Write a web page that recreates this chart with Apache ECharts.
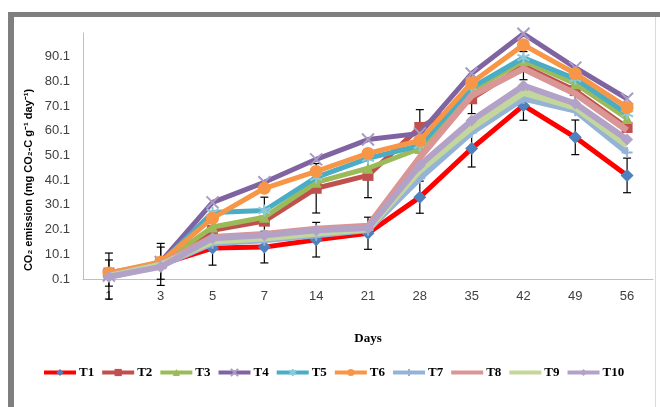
<!DOCTYPE html>
<html><head><meta charset="utf-8">
<script src="https://cdn.jsdelivr.net/npm/echarts@6/dist/echarts.min.js"></script>
<style>html,body{margin:0;padding:0;background:#fff}#c{width:660px;height:407px}</style>
</head><body><div id="c"></div>
<script>
const days = ['1','3','5','7','14','21','28','35','42','49','56'];
const seriesNames = ['T1','T2','T3','T4','T5','T6','T7','T8','T9','T10'];
const T1  = [1.3, 6.0, 12.6, 13.0, 16.0, 18.6, 33.2, 52.9, 70.3, 57.4, 42.0];
const T2  = [2.5, 6.5, 19.8, 23.5, 36.8, 42.0, 61.4, 73.0, 86.4, 76.3, 61.4];
const T3  = [2.0, 6.3, 21.1, 25.1, 39.2, 44.9, 52.9, 76.3, 88.4, 79.1, 65.0];
const T4  = [1.5, 7.0, 31.1, 39.2, 48.5, 56.5, 59.0, 83.2, 99.3, 85.6, 73.0];
const T5  = [2.0, 6.5, 27.0, 27.8, 41.2, 48.9, 54.1, 77.5, 89.6, 81.1, 67.0];
const T6  = [2.5, 7.0, 24.7, 36.8, 43.6, 50.9, 56.1, 79.5, 94.8, 83.2, 69.5];
const T7  = [1.0, 5.5, 14.6, 15.8, 17.8, 19.9, 40.8, 59.4, 73.1, 68.2, 51.3];
const T8  = [1.5, 6.0, 17.0, 18.2, 20.3, 21.5, 49.3, 74.3, 85.2, 75.1, 60.2];
const T9  = [1.2, 5.8, 15.4, 16.6, 18.6, 20.3, 44.0, 61.4, 75.5, 69.5, 54.1];
const T10 = [1.0, 5.0, 16.6, 17.8, 19.8, 20.7, 46.1, 64.2, 78.3, 71.1, 56.5];
const errT1 = [9.3, 8.5, 6.9, 6.4, 7.0, 6.5, 6.5, 7.5, 6.0, 7.0, 7.0];
const errT2 = [5.3, 6.5, 0, 9.7, 10.0, 9.0, 7.2, 6.0, 5.7, 5.0, 0];
const yTicks = {min: 0.1, max: 99.6, interval: 10};

const values = [T1,T2,T3,T4,T5,T6,T7,T8,T9,T10];
const styles = [
  {line:'#FF0000', mark:'#4F81BD', sym:'diamond', size:13, w:5},
  {line:'#C0504D', mark:'#C0504D', sym:'rect', size:11, w:5},
  {line:'#9BBB59', mark:'#9BBB59', sym:'triangle', size:11, w:5},
  {line:'#8064A2', mark:'#A99BC4', sym:'path://M0,0L10,10M10,0L0,10', size:12, w:5, stroke:true},
  {line:'#4BACC6', mark:'#8CC9DA', sym:'path://M5,0L5,10M0,2.5L10,7.5M0,7.5L10,2.5', size:12, w:5, stroke:true},
  {line:'#F79646', mark:'#F79646', sym:'circle', size:13, w:5},
  {line:'#95B3D7', mark:'#95B3D7', sym:'path://M5,0L5,10M0,5L10,5', size:11, w:6, stroke:true},
  {line:'#DA9694', mark:'#DA9694', sym:'none', size:0, w:6.5},
  {line:'#C3D69B', mark:'#C3D69B', sym:'none', size:0, w:6.5},
  {line:'#B3A2C7', mark:'#B3A2C7', sym:'diamond', size:12, w:6}
];

const series = seriesNames.map((n,i)=>{
  const s = styles[i];
  return {
    name:n, type:'line', data:values[i], z: 2+i,
    symbol:s.sym, symbolSize:s.size, showSymbol: s.sym!=='none',
    lineStyle:{color:s.line, width:s.w},
    itemStyle: s.stroke ? {color:s.mark, borderColor:s.mark, borderWidth:2} : {color:s.mark, borderWidth:0},
    emphasis:{disabled:true}, animation:false
  };
});

function errSeries(vals, errs){
  return {
    type:'custom', z: 1, silent:true, animation:false,
    data: vals.map((v,i)=>[i, v, errs[i]]),
    renderItem: function(params, api){
      const i = api.value(0), v = api.value(1), e = api.value(2);
      if (!e) return null;
      const top = api.coord([i, v+e]), bot = api.coord([i, v-e]);
      const st = {stroke:'#000', lineWidth:1.2};
      return {type:'group', children:[
        {type:'line', shape:{x1:top[0],y1:top[1],x2:bot[0],y2:bot[1]}, style:st},
        {type:'line', shape:{x1:top[0]-4,y1:top[1],x2:top[0]+4,y2:top[1]}, style:st},
        {type:'line', shape:{x1:bot[0]-4,y1:bot[1],x2:bot[0]+4,y2:bot[1]}, style:st}
      ]};
    }
  };
}
series.push(errSeries(T1, errT1));
series.push(errSeries(T2, errT2));

const legendData = seriesNames.map((n,i)=> styles[i].sym==='none'
  ? {name:n, itemStyle:{opacity:0}} : {name:n});

const chart = echarts.init(document.getElementById('c'), null, {renderer:'canvas'});
chart.setOption({
  backgroundColor:'#fff',
  animation:false,
  grid:{left:83, right:7, top:33, bottom:128, containLabel:false},
  xAxis:{
    type:'category', data:days, boundaryGap:true,
    name:'Days', nameLocation:'middle', nameGap:53,
    nameTextStyle:{fontFamily:'Liberation Serif', fontWeight:'bold', fontSize:13, color:'#000'},
    axisLine:{lineStyle:{color:'#BFBFBF', width:1}},
    axisTick:{show:false},
    axisLabel:{fontFamily:'Liberation Sans', fontSize:13, color:'#404040', margin:11}
  },
  yAxis:{
    type:'value', min:yTicks.min, max:yTicks.max, interval:yTicks.interval,
    axisLine:{show:true, lineStyle:{color:'#BFBFBF', width:1}},
    axisTick:{show:false},
    splitLine:{show:false},
    axisLabel:{fontFamily:'Liberation Sans', fontSize:13, color:'#404040', margin:13, showMaxLabel:false,
      formatter: v => v.toFixed(1)}
  },
  legend:{
    data:legendData, left:37, top:361, itemWidth:32, itemHeight:9, itemGap:6,
    lineStyle:{width:4},
    textStyle:{fontFamily:'Liberation Serif', fontWeight:'bold', fontSize:13, color:'#000', padding:[0,0,0,-2]},
    selectedMode:false
  },
  graphic:[
    {type:'rect', shape:{x:8, y:12, width:6, height:395}, style:{fill:'#7F7F7F'}, z:100},
    {type:'rect', shape:{x:8, y:12, width:652, height:5}, style:{fill:'#7F7F7F'}, z:100},
    {type:'rect', shape:{x:655, y:17, width:1, height:390}, style:{fill:'#D9D9D9'}, z:100},
    {type:'text', x:29, y:180, rotation:Math.PI/2, z:100,
      style:{text:'CO₂ emission (mg CO₂-C g⁻¹ day⁻¹)', fontFamily:'Liberation Sans', fontWeight:'bold', fontSize:11,
        fill:'#000', align:'center', verticalAlign:'middle'}}
  ],
  series:series
});
</script></body></html>
